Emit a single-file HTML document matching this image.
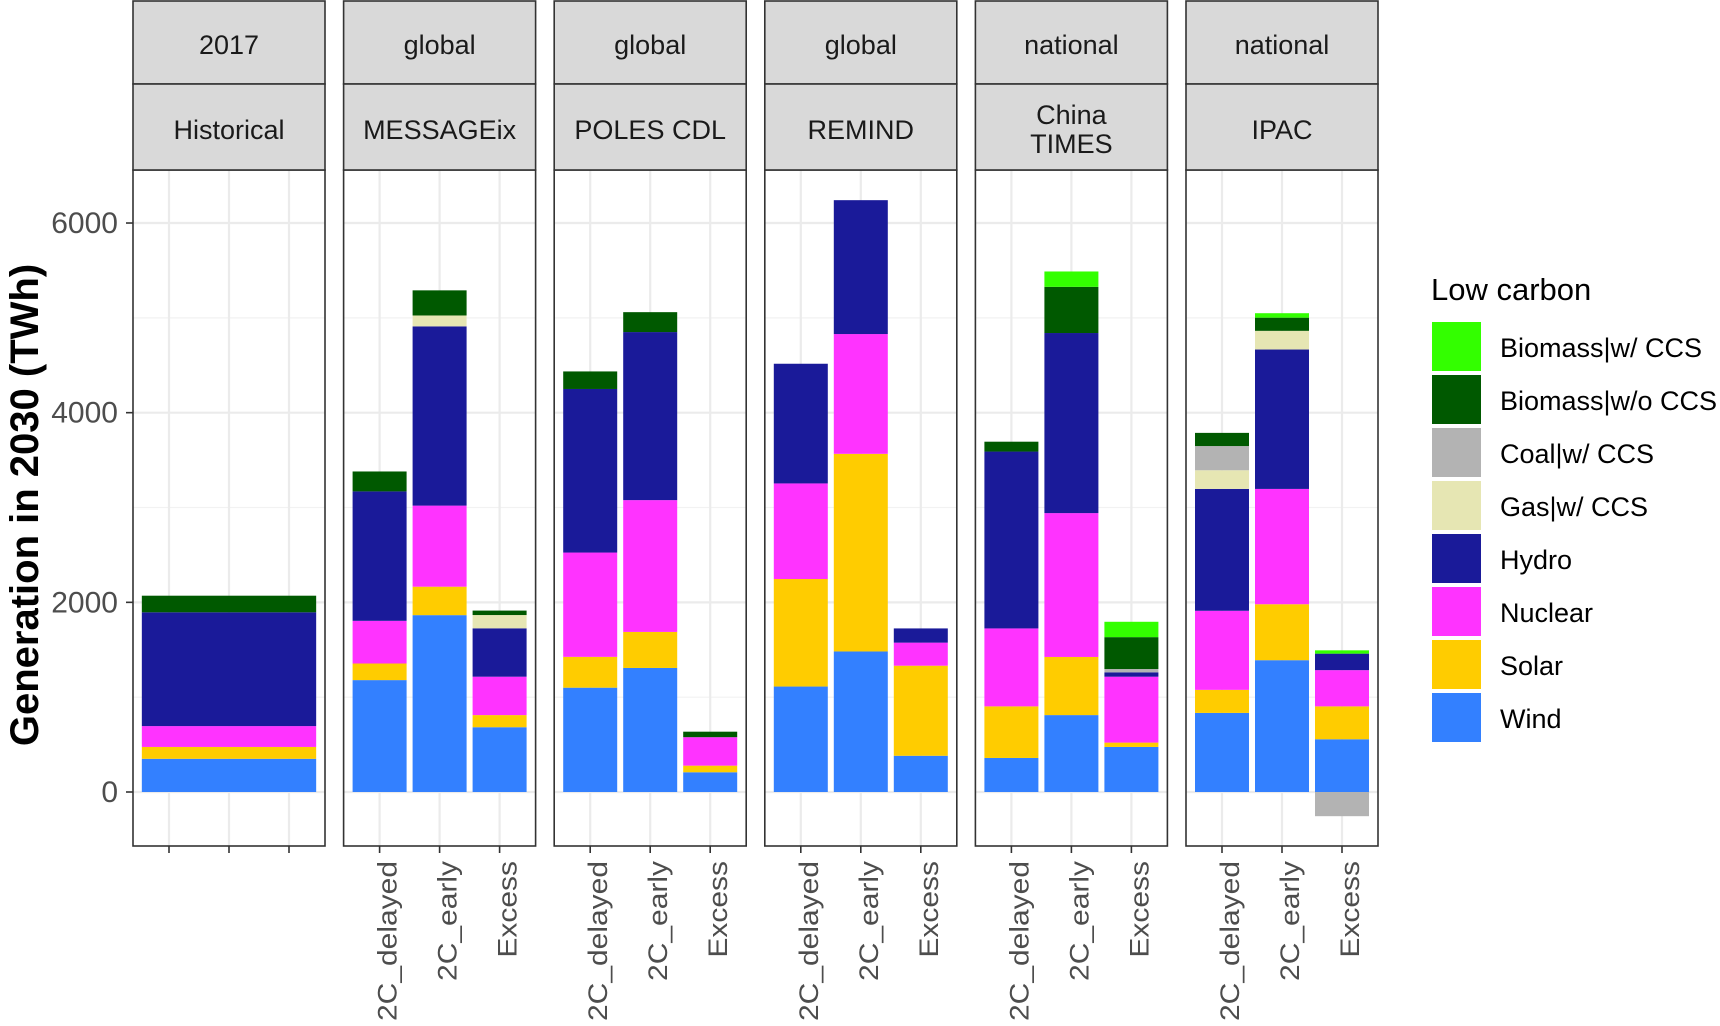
<!DOCTYPE html>
<html><head><meta charset="utf-8">
<style>
html,body{margin:0;padding:0;background:#fff;}
svg{display:block;font-family:"Liberation Sans",sans-serif;}
</style></head>
<body>
<svg id="chart" width="1720" height="1026" viewBox="0 0 1720 1026" xmlns="http://www.w3.org/2000/svg"></svg>
<script>
// ---- data ----
const techs = ["Wind","Solar","Nuclear","Hydro","Gas|w/ CCS","Coal|w/ CCS","Biomass|w/o CCS","Biomass|w/ CCS"];
const colors = ["#3380ff","#ffcc00","#ff33ff","#1a1a99","#e6e6b3","#b3b3b3","#005900","#33ff00"];
const legendOrder = [7,6,5,4,3,2,1,0];
const panelTop = ["2017","global","global","global","national","national"];
const panelModel = [["Historical"],["MESSAGEix"],["POLES CDL"],["REMIND"],["China","TIMES"],["IPAC"]];
const scenarios = ["2C_delayed","2C_early","Excess"];
const yTicks = [0,2000,4000,6000];
const yMinor = [1000,3000,5000];
// values: [Wind, Solar, Nuclear, Hydro, Gas CCS, Coal CCS, Bio w/o, Bio w/]
const historical = [350,125,220,1200,0,0,175,0];
const messageix = [[1180,175,450,1365,0,0,210,0],[1865,300,855,1890,115,0,265,0],[683,128,405,510,140,0,47,0]];
const poles = [[1100,325,1100,1725,0,0,185,0],[1308,380,1390,1772,0,0,210,0],[208,70,300,0,0,0,58,0]];
const remind = [[1112,1134,1008,1262,0,0,0,0],[1482,2084,1263,1412,0,0,0,0],[382,950,243,150,0,0,0,0]];
const chinaTimes = [[359,544,822,1865,0,0,104,0],[811,613,1517,1899,0,0,487,162],[475,46,695,46,0,35,336,162]];
const ipac = [[834,243,834,1285,197,255,139,0],[1390,590,1216,1470,197,0,139,47],[556,347,382,174,0,-255,0,35]];
const panelData = [null, messageix, poles, remind, chinaTimes, ipac];

// ---- layout ----
const NS="http://www.w3.org/2000/svg";
const svg=document.getElementById('chart');
const plotTop=170, plotBot=846, panelW=192, panelStep=210.6, panel0=133;
const y0px=792, pxPer=0.09483;
function y(v){return y0px - v*pxPer;}
function px(i){return panel0+i*panelStep;}
function cx(i,k){return px(i)+panelW*(0.1875+0.3125*k);}
function mk(tag,attrs,parent){const e=document.createElementNS(NS,tag);for(const a in attrs)e.setAttribute(a,attrs[a]);(parent||svg).appendChild(e);return e;}

for(let i=0;i<6;i++){
  const L=px(i);
  const g=mk('g',{});
  
  
  mk('rect',{x:L,y:plotTop,width:panelW,height:plotBot-plotTop,fill:'#fff'},g);
  yMinor.forEach(v=>{mk('line',{x1:L,x2:L+panelW,y1:y(v),y2:y(v),stroke:'#f2f2f2','stroke-width':1.2},g);});
  yTicks.forEach(v=>{mk('line',{x1:L,x2:L+panelW,y1:y(v),y2:y(v),stroke:'#ebebeb','stroke-width':2.2},g);});
  for(let k=0;k<3;k++){mk('line',{x1:cx(i,k),x2:cx(i,k),y1:plotTop,y2:plotBot,stroke:'#ebebeb','stroke-width':2.2},g);}
  function stack(vals,x1,w,name){
    let pos=0,neg=0;
    vals.forEach((v,t)=>{
      if(v===0)return;
      let a,b;
      if(v>0){a=pos;b=pos+v;pos=b;}else{a=neg+v;b=neg;neg=a;}
      const r=mk('rect',{x:x1,y:y(b),width:w,height:Math.max(0,y(a)-y(b)),fill:colors[t]},g);
      
      
    });
  }
  if(i===0){stack(historical,L+panelW*0.046,panelW*0.908,'bar-historical');}
  else{
    panelData[i].forEach((vals,k)=>{stack(vals,cx(i,k)-27,54,'bar-'+scenarios[k].toLowerCase());});
  }
  mk('rect',{x:L,y:plotTop,width:panelW,height:plotBot-plotTop,fill:'none',stroke:'#333','stroke-width':1.6},g);
  const s1=mk('rect',{x:L,y:1,width:panelW,height:83,fill:'#d9d9d9',stroke:'#333','stroke-width':1.6},g);
  
  const s2=mk('rect',{x:L,y:84,width:panelW,height:86,fill:'#d9d9d9',stroke:'#333','stroke-width':1.6},g);
  
  const t1=mk('text',{x:L+panelW/2,y:54,'text-anchor':'middle','font-size':27,fill:'#1a1a1a'},g);
  t1.textContent=panelTop[i];
  
  const lines=panelModel[i];
  lines.forEach((ln,j)=>{
    const yy= lines.length===1?139:124+j*29;
    const t=mk('text',{x:L+panelW/2,y:yy,'text-anchor':'middle','font-size':27,fill:'#1a1a1a'},g);
    t.textContent=ln;
    
  });
  for(let k=0;k<3;k++){
    mk('line',{x1:cx(i,k),x2:cx(i,k),y1:plotBot,y2:plotBot+7,stroke:'#333','stroke-width':1.6},g);
    if(i>0){
      const t=mk('text',{x:0,y:0,'text-anchor':'end','font-size':30,fill:'#4d4d4d',transform:`translate(${cx(i,k)+17},861) rotate(-90) scale(1,0.9)`},g);
      t.textContent=scenarios[k];
      
    }
  }
}
yTicks.forEach(v=>{
  mk('line',{x1:panel0-7,x2:panel0,y1:y(v),y2:y(v),stroke:'#333','stroke-width':1.6});
  const t=mk('text',{x:panel0-15,y:y(v)+10,'text-anchor':'end','font-size':30,fill:'#4d4d4d'});
  t.textContent=v;
  
});
const yt=mk('text',{x:0,y:0,'text-anchor':'middle','font-size':40,'font-weight':'bold',fill:'#000',transform:'translate(38,505) rotate(-90)'});
yt.textContent='Generation in 2030 (TWh)';

const lg=mk('g',{});

const lt=mk('text',{x:1431,y:300,'font-size':31,fill:'#000'},lg);
lt.textContent='Low carbon';

legendOrder.forEach((t,j)=>{
  const top=322+j*53;
  const r=mk('rect',{x:1432,y:top,width:49,height:49,fill:colors[t]},lg);
  
  const tx=mk('text',{x:1500,y:top+35,'font-size':27,fill:'#000'},lg);
  tx.textContent=techs[t];
  
});
</script>
</body></html>
